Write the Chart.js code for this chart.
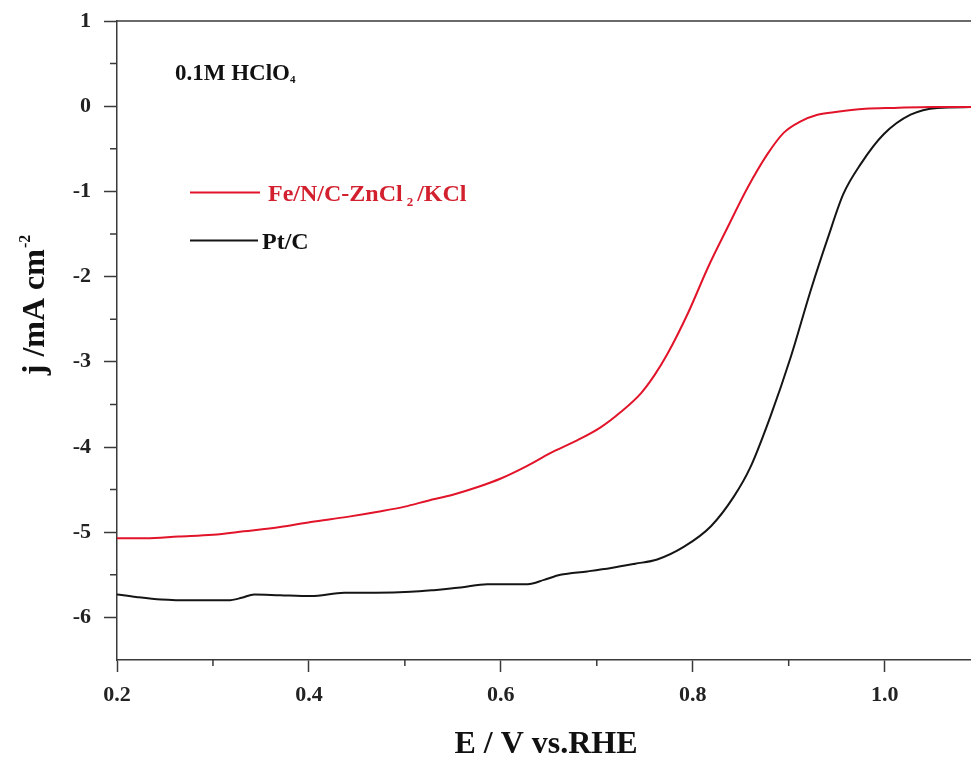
<!DOCTYPE html>
<html>
<head>
<meta charset="utf-8">
<script src="https://cdn.jsdelivr.net/npm/chart.js@4.4.1/dist/chart.umd.min.js"></script>
<style>
  body { margin: 0; background: #fff; }
</style>
</head>
<body>
<canvas id="lsv" width="971" height="762"></canvas>
<script>
// Fe/N/C-ZnCl2/KCl curve
const potentialFe = [0.200, 0.230, 0.264, 0.300, 0.332, 0.370, 0.402, 0.440, 0.472, 0.500,
  0.524, 0.550, 0.576, 0.600, 0.626, 0.652, 0.680, 0.704, 0.725, 0.746, 0.760, 0.774,
  0.795, 0.816, 0.836, 0.857, 0.878, 0.895, 0.912, 0.930, 0.947, 0.980, 1.010, 1.050, 1.090];
const currentFe = [-5.07, -5.07, -5.05, -5.03, -4.99, -4.94, -4.88, -4.82, -4.76, -4.70,
  -4.63, -4.56, -4.47, -4.37, -4.23, -4.07, -3.92, -3.77, -3.59, -3.37, -3.16, -2.90,
  -2.43, -1.89, -1.43, -0.96, -0.56, -0.31, -0.18, -0.10, -0.07, -0.03, -0.02, -0.01, -0.01];

// Pt/C curve
const potentialPt = [0.200, 0.220, 0.246, 0.280, 0.316, 0.330, 0.343, 0.370, 0.402, 0.437,
  0.470, 0.506, 0.530, 0.558, 0.586, 0.628, 0.645, 0.662, 0.690, 0.715, 0.740, 0.763,
  0.791, 0.819, 0.843, 0.860, 0.881, 0.902, 0.923, 0.941, 0.957, 0.975, 0.999, 1.027, 1.055, 1.090];
const currentPt = [-5.73, -5.76, -5.79, -5.80, -5.80, -5.77, -5.73, -5.74, -5.75, -5.71,
  -5.71, -5.70, -5.68, -5.65, -5.61, -5.61, -5.56, -5.50, -5.46, -5.42, -5.37, -5.32,
  -5.17, -4.93, -4.58, -4.24, -3.64, -2.95, -2.16, -1.54, -1.03, -0.68, -0.33, -0.10, -0.02, -0.01];

const xTicks = [0.2, 0.4, 0.6, 0.8, 1.0];
const yTicks = [1, 0, -1, -2, -3, -4, -5, -6];
const xMinor = [0.3, 0.5, 0.7, 0.9];
const yMinor = [0.5, -0.5, -1.5, -2.5, -3.5, -4.5, -5.5];

const serif = '"Liberation Serif", "DejaVu Serif", serif';
const axisColor = '#3a3a3a';
const redLine = '#e1142a';
const redText = '#d3202f';

function toPoints(xs, ys) {
  return xs.map((x, i) => ({ x: x, y: ys[i] }));
}

// draw text made of several runs (for sub/superscripts)
function drawRuns(ctx, runs, x, y, align) {
  let total = 0;
  runs.forEach(r => {
    ctx.font = 'bold ' + r.size + 'px ' + serif;
    r.w = ctx.measureText(r.t).width + (r.pre || 0) + (r.gap || 0);
    total += r.w;
  });
  let cx = align === 'center' ? x - total / 2 : x;
  runs.forEach(r => {
    ctx.font = 'bold ' + r.size + 'px ' + serif;
    ctx.fillText(r.t, cx + (r.pre || 0), y + (r.dy || 0));
    cx += r.w;
  });
}

const extras = {
  id: 'extras',
  afterDraw(chart) {
    const ctx = chart.ctx;
    const a = chart.chartArea;
    const xs = chart.scales.x, ys = chart.scales.y;
    ctx.save();

    // top frame line and minor ticks
    ctx.strokeStyle = axisColor;
    ctx.lineWidth = 1.5;
    ctx.beginPath();
    ctx.moveTo(a.left, a.top);
    ctx.lineTo(a.right, a.top);
    yMinor.forEach(v => {
      const y = ys.getPixelForValue(v);
      ctx.moveTo(a.left - 7, y);
      ctx.lineTo(a.left, y);
    });
    xMinor.forEach(v => {
      const x = xs.getPixelForValue(v);
      ctx.moveTo(x, a.bottom);
      ctx.lineTo(x, a.bottom + 6);
    });
    ctx.stroke();

    ctx.textAlign = 'left';
    ctx.textBaseline = 'alphabetic';

    // axis titles
    ctx.fillStyle = '#111';
    drawRuns(ctx, [{ t: 'E / V vs.RHE', size: 32 }], 546, 753, 'center');
    ctx.save();
    ctx.translate(44, 305);
    ctx.rotate(-Math.PI / 2);
    drawRuns(ctx, [{ t: 'j /mA cm', size: 32 }, { t: '-2', size: 16, dy: -14, pre: 1 }], 0, 0, 'center');
    ctx.restore();

    // electrolyte note
    drawRuns(ctx, [{ t: '0.1M HClO', size: 23 }, { t: '4', size: 11, dy: 3 }], 175, 80, 'left');

    // legend
    ctx.lineWidth = 2;
    ctx.strokeStyle = redLine;
    ctx.beginPath();
    ctx.moveTo(190, 192.5);
    ctx.lineTo(260, 192.5);
    ctx.stroke();
    ctx.strokeStyle = '#151515';
    ctx.beginPath();
    ctx.moveTo(190, 240.5);
    ctx.lineTo(258, 240.5);
    ctx.stroke();

    ctx.fillStyle = redText;
    drawRuns(ctx, [
      { t: 'Fe/N/C-ZnCl', size: 24 },
      { t: '2', size: 13, dy: 5, pre: 4, gap: 4 },
      { t: '/KCl', size: 24 }
    ], 268, 201, 'left');
    ctx.fillStyle = '#111';
    drawRuns(ctx, [{ t: 'Pt/C', size: 24 }], 262, 249, 'left');

    ctx.restore();
  }
};

new Chart(document.getElementById('lsv').getContext('2d'), {
  type: 'scatter',
  data: {
    datasets: [
      {
        label: 'Fe/N/C-ZnCl2/KCl',
        data: toPoints(potentialFe, currentFe),
        showLine: true,
        borderColor: redLine,
        borderWidth: 2,
        pointRadius: 0,
        cubicInterpolationMode: 'monotone'
      },
      {
        label: 'Pt/C',
        data: toPoints(potentialPt, currentPt),
        showLine: true,
        borderColor: '#151515',
        borderWidth: 2,
        pointRadius: 0,
        cubicInterpolationMode: 'monotone'
      }
    ]
  },
  options: {
    responsive: false,
    animation: false,
    layout: { padding: { left: 0, top: 21, right: 0, bottom: 0 } },
    plugins: {
      legend: { display: false },
      tooltip: { enabled: false }
    },
    scales: {
      x: {
        type: 'linear',
        min: 0.2,
        max: 1.09,
        border: { display: true, color: axisColor, width: 1.5 },
        grid: { drawOnChartArea: false, drawTicks: true, tickLength: 12, tickColor: axisColor, tickWidth: 1.5 },
        ticks: {
          autoSkip: false,
          padding: 10,
          color: '#222',
          font: { family: serif, size: 22, weight: 'bold' },
          callback: v => Number(v).toFixed(1)
        },
        afterBuildTicks: scale => { scale.ticks = xTicks.map(v => ({ value: v })); },
        afterFit: scale => {
          scale.height = 102;
          scale.paddingLeft = 0;
          scale.paddingRight = 0;
        }
      },
      y: {
        type: 'linear',
        min: -6.5,
        max: 1,
        border: { display: true, color: axisColor, width: 1.5 },
        grid: { drawOnChartArea: false, drawTicks: true, tickLength: 13, tickColor: axisColor, tickWidth: 1.5 },
        ticks: {
          autoSkip: false,
          padding: 13,
          color: '#222',
          font: { family: serif, size: 22, weight: 'bold' },
          callback: v => String(v)
        },
        afterBuildTicks: scale => { scale.ticks = yTicks.map(v => ({ value: v })); },
        afterFit: scale => {
          scale.width = 117;
          scale.paddingTop = 0;
          scale.paddingBottom = 0;
        }
      }
    }
  },
  plugins: [extras]
});
</script>
</body>
</html>
